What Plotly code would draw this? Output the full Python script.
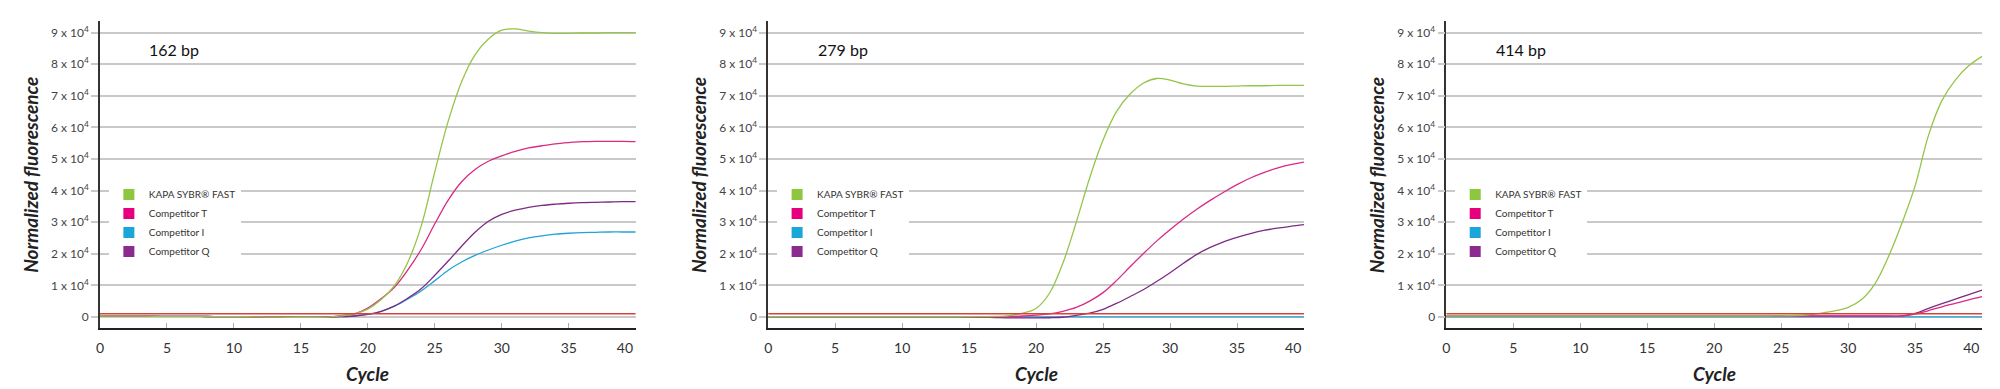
import plotly.graph_objects as go

# ---------------- data ----------------
CYCLES = list(range(41))
SERIES_NAMES = ["KAPA SYBR® FAST", "Competitor T", "Competitor I", "Competitor Q"]
PANEL_LABELS = ["162 bp", "279 bp", "414 bp"]
THRESHOLD = [1000, 1000, 1000]

# 162 bp
P1_KAPA = [300, 280, 260, 240, 220, 200, 180, 160, 140, 120, 100, 60, 0, -60, -100, -120, -110, -60,
           350, 1000, 2500, 5500, 10000, 17500, 29000, 46000, 62000, 74500, 83000, 88000, 90800,
           91200, 90500, 90000, 89800, 89800, 89900, 89900, 90000, 90000, 90000]
P1_T = [300, 280, 260, 240, 220, 200, 180, 160, 140, 120, 100, 60, 0, -60, -100, -120, -110, -60,
        400, 1000, 2800, 5800, 9500, 15000, 21500, 29500, 37000, 42800, 46700, 49300, 51000,
        52400, 53500, 54200, 54800, 55200, 55500, 55600, 55600, 55600, 55500]
P1_I = [300, 280, 260, 240, 220, 200, 180, 160, 140, 120, 100, 60, 0, -60, -100, -120, -110, -60,
        100, 300, 800, 1800, 3400, 5700, 8300, 11500, 14800, 17400, 19500, 21200, 22700,
        24000, 25000, 25700, 26200, 26500, 26700, 26800, 26900, 26900, 26900]
P1_Q = [300, 280, 260, 240, 220, 200, 180, 160, 140, 120, 100, 60, 0, -60, -100, -120, -110, -60,
        100, 300, 800, 1800, 3500, 6000, 9000, 13200, 17700, 22400, 26800, 30300, 32500,
        33800, 34700, 35300, 35700, 36000, 36200, 36300, 36400, 36500, 36500]

# 279 bp
P2_KAPA = [100, 100, 100, 100, 100, 100, 100, 100, 100, 100, 100, 100, 100, 100, 100, 80, 100, 150,
           400, 1200, 2700, 7500, 17000, 30000, 44000, 56000, 65000, 70500, 74000, 75500, 75000,
           73800, 73100, 73000, 73000, 73100, 73200, 73200, 73300, 73300, 73300]
P2_T = [100, 100, 100, 100, 100, 100, 100, 100, 100, 100, 100, 100, 100, 100, 100, 50, 0, 0,
        100, 300, 600, 1000, 1800, 3000, 5000, 7700, 11500, 15800, 20000, 24000, 27600,
        31000, 34100, 36900, 39500, 41900, 44000, 45700, 47100, 48200, 49000]
P2_I = [0, 0, 0, 0, 0, 0, 0, 0, 0, 0, 0, 0, 0, 0, 0, 0, 0, 0, 0, 0, 0,
        0, 0, 0, 0, 0, 0, 0, 0, 0, 0, 0, 0, 0, 0, 0, 0, 0, 0, 0, 0]
P2_Q = [100, 100, 100, 100, 100, 100, 100, 100, 100, 100, 100, 100, 100, 100, 100, 0, -100, -200,
        -300, -300, -300, -250, -100, 500, 1200, 2400, 4300, 6400, 8600, 11200, 14000,
        17000, 19800, 22000, 23800, 25200, 26400, 27400, 28100, 28700, 29200]

# 414 bp
P3_KAPA = [300, 300, 300, 300, 300, 300, 300, 300, 300, 300, 300, 300, 300, 300, 300, 300, 300, 300,
           300, 300, 300, 300, 300, 300, 300, 350, 450, 700, 1200, 1900, 3000,
           5500, 10500, 19000, 29500, 41500, 57500, 68500, 75000, 79500, 82500]
P3_T = [300, 300, 300, 300, 300, 300, 300, 300, 300, 300, 300, 300, 300, 300, 300, 300, 300, 300,
        300, 300, 300, 300, 300, 300, 300, 300, 300, 300, 300, 300, 300,
        300, 300, 300, 300, 900, 2000, 3200, 4300, 5400, 6400]
P3_I = [0, 0, 0, 0, 0, 0, 0, 0, 0, 0, 0, 0, 0, 0, 0, 0, 0, 0, 0, 0, 0,
        0, 0, 0, 0, 0, 0, 0, 0, 0, 0, 0, 0, 0, 0, 0, 0, 0, 0, 0, 0]
P3_Q = [250, 250, 250, 250, 250, 250, 250, 250, 250, 250, 250, 250, 250, 250, 250, 250, 250, 250,
        250, 250, 250, 250, 250, 250, 250, 250, 250, 250, 250, 250, 250,
        250, 250, 250, 300, 1100, 2700, 4200, 5650, 7100, 8500]

PANELS = [
    [P1_KAPA, P1_T, P1_I, P1_Q],
    [P2_KAPA, P2_T, P2_I, P2_Q],
    [P3_KAPA, P3_T, P3_I, P3_Q],
]
Y_TICKS = [0, 10000, 20000, 30000, 40000, 50000, 60000, 70000, 80000, 90000]
Y_TICKTEXT = ["0", "1 x 10<sup>4</sup>", "2 x 10<sup>4</sup>", "3 x 10<sup>4</sup>", "4 x 10<sup>4</sup>",
              "5 x 10<sup>4</sup>", "6 x 10<sup>4</sup>", "7 x 10<sup>4</sup>", "8 x 10<sup>4</sup>",
              "9 x 10<sup>4</sup>"]
X_TICKS = [0, 5, 10, 15, 20, 25, 30, 35, 40]
X_TICKTEXT = ["0", "5", "10", "15", "20", "25", "30", "35", "40\u00a0\u00a0\u00a0\u00a0\u00a0\u00a0"]

# ---------------- style ----------------
LINE_COLORS = ["#95C548", "#DA2A83", "#1FA3D8", "#7E2B86"]
LEGEND_COLORS = ["#8DC63F", "#E6007E", "#1BA6DA", "#8B2A8F"]
RED = "#D9423C"
GRID = "#C9C9C9"
FONT = "Lato"
W, H = 2000, 389
AX_LEFT = [89, 765, 1451]
AX_WIDTH = 542
Y_TOP, Y_BOT = 13, 320

fig = go.Figure()
ydom = [1 - Y_BOT / H, 1 - Y_TOP / H]
annotations = []

for p in range(3):
    xa = "x" if p == 0 else "x%d" % (p + 1)
    ya = "y" if p == 0 else "y%d" % (p + 1)
    lg = "legend" if p == 0 else "legend%d" % (p + 1)
    # draw order: I, Q, T, KAPA
    for si in [2, 3, 1, 0]:
        fig.add_trace(go.Scatter(
            x=CYCLES, y=PANELS[p][si], mode="lines",
            line=dict(color=LINE_COLORS[si], width=1.3, shape="spline", smoothing=1.0),
            xaxis=xa, yaxis=ya, showlegend=False, hoverinfo="skip"))
    fig.add_trace(go.Scatter(
        x=[CYCLES[0], CYCLES[-1]], y=[THRESHOLD[p], THRESHOLD[p]], mode="lines",
        line=dict(color=RED, width=1.6), xaxis=xa, yaxis=ya, showlegend=False, hoverinfo="skip"))
    for si in range(4):
        fig.add_trace(go.Scatter(
            x=[None], y=[None], mode="markers", name=SERIES_NAMES[si],
            marker=dict(symbol="square", size=11, color=LEGEND_COLORS[si]),
            xaxis=xa, yaxis=ya, legend=lg, showlegend=True))

    left = AX_LEFT[p]
    dom = [left / W, (left + AX_WIDTH) / W]
    fig.layout["xaxis" if p == 0 else "xaxis%d" % (p + 1)] = dict(
        domain=dom, range=[0, 40], tickvals=X_TICKS, ticktext=X_TICKTEXT, showgrid=False, zeroline=False,
        showline=True, linecolor="#222", linewidth=2, ticks="inside", ticklen=5,
        tickcolor="#AAAAAA", tickwidth=1, anchor=ya,
        tickfont=dict(family=FONT, size=14, color="#333"), ticklabelstandoff=6)
    fig.layout["yaxis" if p == 0 else "yaxis%d" % (p + 1)] = dict(
        domain=ydom, range=[-3500, 93700], tickvals=Y_TICKS, ticktext=Y_TICKTEXT,
        showgrid=True, gridcolor=GRID, gridwidth=1.5, zeroline=False,
        showline=True, linecolor="#333", linewidth=1.5, ticks="outside", ticklen=7,
        tickcolor=GRID, tickwidth=1.5, anchor=xa,
        tickfont=dict(family=FONT, size=12, color="#444"))
    fig.layout[lg] = dict(
        x=(left + 9) / W, y=1 - 215 / H, xanchor="left", yanchor="middle",
        bgcolor="white", borderwidth=0, font=dict(family=FONT, size=10, color="#333"),
        tracegroupgap=0)
    annotations.append(dict(
        text="<b><i>Normalized fluorescence</i></b>", textangle=-90, x=(left - 71) / W, y=1 - 167 / H,
        xref="paper", yref="paper", showarrow=False, xanchor="center", yanchor="middle",
        font=dict(family=FONT, size=19, color="#222")))
    annotations.append(dict(
        text="<b><i>Cycle</i></b>", x=(left + AX_WIDTH / 2) / W, y=1 - 365 / H,
        xref="paper", yref="paper", showarrow=False, xanchor="center", yanchor="middle",
        font=dict(family=FONT, size=19, color="#222")))
    annotations.append(dict(
        text=PANEL_LABELS[p], x=(left + 48) / W, y=1 - 41 / H,
        xref="paper", yref="paper", showarrow=False, xanchor="left", yanchor="middle",
        font=dict(family=FONT, size=16, color="#111")))

fig.update_layout(
    width=W, height=H, margin=dict(l=0, r=0, t=0, b=0),
    paper_bgcolor="white", plot_bgcolor="white",
    annotations=annotations, hovermode=False)

fig.write_html("out.html")
